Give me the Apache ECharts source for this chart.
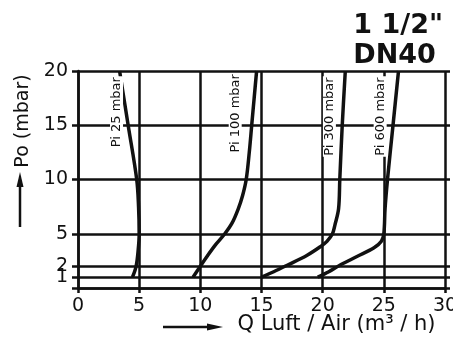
<!DOCTYPE html>
<html>
<head>
<meta charset="utf-8">
<script src="https://cdn.jsdelivr.net/npm/echarts@6/dist/echarts.min.js"></script>
<style>
  html, body { margin: 0; padding: 0; background: #fff; }
  #chart { width: 453px; height: 340px; }
</style>
</head>
<body>
<div id="chart"></div>
<script>
// achsen
const yTicks = [0, 1, 2, 5, 10, 15, 20]
const yLabels = [2, 5, 10, 15, 20]
const yLabelsLow = [1] // eigene achse, sonst blendet echarts die "1" oder "2" aus

// kennlinien, Q in m3/h, Po in mbar
const pi25Q = [4.45, 4.75, 4.92, 5.0, 4.95, 4.8, 4.1, 3.4]
const pi25P = [1, 2, 3.5, 5, 7.5, 10, 15, 20]
const pi100Q = [9.4, 10.0, 10.6, 11.25, 12.0, 12.6, 13.1, 13.45, 13.75, 14.0, 14.2, 14.4, 14.6]
const pi100P = [1, 2, 3, 4, 5, 6, 7.3, 8.5, 10, 12.5, 15, 17.5, 20]
const pi300Q = [15.0, 16.0, 17.1, 18.7, 19.8, 20.35, 20.8, 21.0, 21.3, 21.4, 21.6, 21.85]
const pi300P = [1, 1.5, 2.1, 3, 3.8, 4.3, 5, 5.8, 7.3, 10, 15, 20]
const pi600Q = [19.6, 20.5, 21.4, 22.8, 24.2, 24.8, 25.0, 25.1, 25.3, 25.75, 26.2]
const pi600P = [1, 1.5, 2.1, 2.9, 3.7, 4.3, 5, 7.3, 10, 15, 20]

const curveNames = ['Pi 25 mbar', 'Pi 100 mbar', 'Pi 300 mbar', 'Pi 600 mbar']

const ink = '#111'
const font = 'DejaVu Sans'
const zip = (q, p) => q.map((v, i) => [v, p[i]])

const curves = [zip(pi25Q, pi25P), zip(pi100Q, pi100P), zip(pi300Q, pi300P), zip(pi600Q, pi600P)]
// wo die beschriftungen sitzen (Q, Po)
const labelAt = [[3.15, 16.2], [12.85, 16.1], [20.55, 15.8], [24.7, 15.8]]

const myChart = echarts.init(document.getElementById('chart'), null, {renderer: 'canvas'})

const yLabelStyle = {color: ink, fontFamily: font, fontSize: 19, margin: 10, hideOverlap: false}

const option = {
  animation: false,
  backgroundColor: '#fff',
  title: {
    text: '1 1/2"\nDN40',
    right: 5,
    top: 6,
    textStyle: {fontFamily: font, fontWeight: 'bold', fontSize: 27, lineHeight: 30, color: ink}
  },
  grid: {left: 78, right: 8, top: 71, bottom: 52, containLabel: false, outerBoundsMode: 'none'},
  xAxis: {
    type: 'value',
    min: 0,
    max: 30,
    interval: 5,
    axisLine: {show: true, lineStyle: {color: ink, width: 2.5}},
    axisTick: {show: true, length: 5, lineStyle: {color: ink, width: 2.5}},
    axisLabel: {color: ink, fontFamily: font, fontSize: 19, margin: 9, showMaxLabel: true},
    splitLine: {show: true, lineStyle: {color: ink, width: 2.5}},
    name: 'Q Luft / Air (m³ / h)',
    nameLocation: 'middle',
    nameGap: 26,
    nameMoveOverlap: false,
    nameTextStyle: {color: ink, fontFamily: font, fontSize: 21, padding: [0, 0, 0, 150]}
  },
  yAxis: [
    {
      type: 'value',
      min: 0,
      max: 20,
      interval: 1,
      position: 'left',
      axisLine: {show: true, lineStyle: {color: ink, width: 2.5}},
      axisTick: {show: true, length: 6, customValues: yTicks, lineStyle: {color: ink, width: 2.5}},
      axisLabel: {customValues: yLabels, ...yLabelStyle},
      splitLine: {show: false},
      name: 'Po (mbar)',
      nameLocation: 'middle',
      nameRotate: 90,
      nameGap: 45,
      nameMoveOverlap: false,
      nameTextStyle: {color: ink, fontFamily: font, fontSize: 19, padding: [0, 0, 0, 117]}
    },
    {
      // nur für die kleinen überstände rechts
      type: 'value',
      min: 0,
      max: 20,
      interval: 1,
      position: 'right',
      axisLine: {show: false},
      axisTick: {show: true, length: 5, customValues: yTicks, lineStyle: {color: ink, width: 2.5}},
      axisLabel: {show: false},
      splitLine: {show: false}
    },
    {
      type: 'value',
      min: 0,
      max: 20,
      interval: 1,
      position: 'left',
      offset: 0,
      axisLine: {show: false},
      axisTick: {show: false},
      axisLabel: {customValues: yLabelsLow, ...yLabelStyle},
      splitLine: {show: false}
    }
  ],
  graphic: [
    {type: 'line', shape: {x1: 20, y1: 227, x2: 20, y2: 184}, style: {stroke: ink, lineWidth: 2.5}},
    {type: 'polygon', shape: {points: [[20, 172], [16.5, 187], [23.5, 187]]}, style: {fill: ink}},
    {type: 'line', shape: {x1: 163, y1: 327, x2: 210, y2: 327}, style: {stroke: ink, lineWidth: 2.5}},
    {type: 'polygon', shape: {points: [[223, 327], [207, 323.5], [207, 330.5]]}, style: {fill: ink}}
  ],
  series: [
    {
      // waagrechte gitterlinien + beschriftung der kurven
      name: 'grid',
      type: 'line',
      data: [],
      z: 1,
      silent: true,
      markLine: {
        silent: true,
        symbol: ['none', 'none'],
        label: {show: false},
        lineStyle: {color: ink, width: 2.5, type: 'solid'},
        data: yTicks.map(v => ({yAxis: v}))
      },
      markPoint: {
        silent: true,
        symbol: 'rect',
        symbolSize: 0,
        label: {
          show: true,
          position: 'inside',
          rotate: 90,
          color: ink,
          fontFamily: font,
          fontSize: 13,
          backgroundColor: '#fff',
          padding: [0, 1],
          formatter: p => p.name
        },
        data: curveNames.map((n, i) => ({name: n, coord: labelAt[i]}))
      }
    },
    ...curves.map((d, i) => ({
      name: curveNames[i],
      type: 'line',
      data: d,
      smooth: 0.35,
      showSymbol: false,
      z: 3,
      lineStyle: {color: ink, width: 3.5}
    }))
  ]
}
myChart.setOption(option)
</script>
</body>
</html>
